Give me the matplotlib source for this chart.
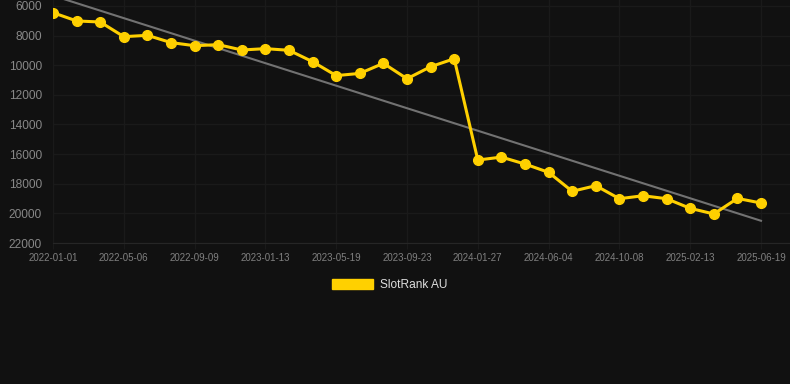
import matplotlib
matplotlib.use("Agg")
import matplotlib.pyplot as plt
from matplotlib.patches import Patch

plt.rcParams["font.family"] = ["Liberation Sans", "DejaVu Sans"]

dates = [
    "2022-01-01", "2022-02-12", "2022-03-25", "2022-05-06", "2022-06-17",
    "2022-07-29", "2022-09-09", "2022-10-21", "2022-12-02", "2023-01-13",
    "2023-02-24", "2023-04-07", "2023-05-19", "2023-06-30", "2023-08-11",
    "2023-09-23", "2023-11-04", "2023-12-16", "2024-01-27", "2024-03-09",
    "2024-04-22", "2024-06-04", "2024-07-16", "2024-08-27", "2024-10-08",
    "2024-11-19", "2025-01-01", "2025-02-13", "2025-03-27", "2025-05-08",
    "2025-06-19",
]
rank = [
    6450, 7010, 7080, 8070, 7980, 8470, 8680, 8610, 8970, 8880,
    8990, 9760, 10700, 10550, 9870, 10910, 10100, 9560, 16400, 16200,
    16670, 17230, 18510, 18130, 19010, 18810, 19010, 19660, 20040, 18990,
    19300,
]
trend_start, trend_end = 5300, 20500
y_ticks = [6000, 8000, 10000, 12000, 14000, 16000, 18000, 20000, 22000]

bg = "#111111"
yellow = "#FFD000"

fig = plt.figure(figsize=(7.9, 3.84), dpi=100, facecolor=bg)
ax = fig.add_axes([53 / 790, 1 - 243 / 384, 1 - 53 / 790, 243 / 384])
ax.set_facecolor(bg)

x = list(range(len(dates)))
ax.plot([x[0], x[-1]], [trend_start, trend_end], color="#727272", lw=1.5, zorder=2)
ax.plot(x, rank, color=yellow, lw=2.2, marker="o", markersize=7, zorder=3)

ax.set_xlim(0, (790 - 53) / ((761 - 53) / 30))
ax.set_ylim(22000, 6000 - 6 / (237 / 16000))
ax.set_yticks(y_ticks)
ax.set_yticklabels([str(v) for v in y_ticks])
ax.set_xticks(x[::3])
ax.set_xticklabels(dates[::3])

ax.grid(True, color="#1a1a1a", lw=1)
for s in ["top", "right", "left"]:
    ax.spines[s].set_visible(False)
ax.spines["bottom"].set_color("#262626")
ax.tick_params(axis="y", colors="#888888", labelsize=8.6, length=0, pad=8)
ax.tick_params(axis="x", colors="#808080", labelsize=7, length=4, pad=3)
ax.tick_params(axis="x", color="#1a1a1a")

fig.legend(
    handles=[Patch(facecolor=yellow, edgecolor=yellow, label="SlotRank AU")],
    loc="center", bbox_to_anchor=(390 / 790, 1 - 285 / 384),
    frameon=False, fontsize=8.6, labelcolor="#dddddd",
    handlelength=3.4, handleheight=1.0, handletextpad=0.6,
)

fig.savefig("out.png", dpi=100, facecolor=bg)
